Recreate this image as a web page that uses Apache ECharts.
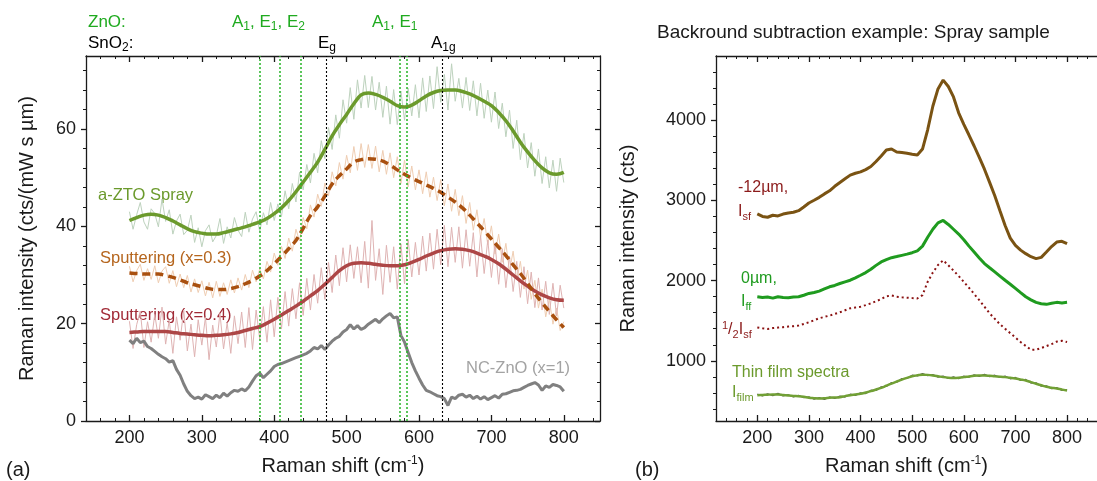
<!DOCTYPE html>
<html>
<head>
<meta charset="utf-8">
<script src="https://cdn.jsdelivr.net/npm/echarts@6/dist/echarts.min.js"></script>
<style>
html, body { margin: 0; padding: 0; background: #fff; }
#main { width: 1097px; height: 481px; }
</style>
</head>
<body>
<div id="main"></div>
<script>
// ---- data (a): Raman spectra, raw points every 5 cm-1, fitted curves every 10 cm-1
var sprayRaw = [
  43.0, 39.4, 42.4, 44.9, 40.9, 39.4, 43.6, 42.6, 39.9, 45.6,
  41.0, 43.4, 38.4, 41.1, 42.5, 38.3, 39.2, 42.3, 36.7, 39.7,
  35.8, 39.1, 40.3, 36.8, 38.1, 41.6, 36.5, 39.9, 37.6, 41.8,
  39.2, 37.9, 42.9, 38.8, 41.5, 43.0, 38.9, 42.8, 40.3, 44.9,
  41.2, 44.6, 42.0, 47.3, 43.6, 48.8, 45.0, 51.1, 47.5, 52.7,
  48.9, 55.0, 51.0, 57.6, 53.9, 60.3, 55.8, 62.9, 58.1, 66.0,
  61.2, 68.5, 62.0, 70.1, 64.3, 71.0, 64.4, 70.8, 63.9, 69.6,
  62.4, 68.8, 61.0, 68.1, 60.9, 67.8, 61.8, 68.4, 62.7, 69.1,
  62.3, 70.5, 63.6, 70.9, 64.2, 72.8, 65.5, 71.2, 63.9, 73.4,
  65.7, 70.4, 64.3, 70.6, 63.8, 69.9, 62.7, 69.4, 62.2, 68.0,
  61.4, 67.6, 60.1, 65.3, 58.4, 63.9, 56.0, 61.8, 53.7, 59.1,
  52.0, 57.2, 50.3, 55.9, 48.8, 54.3, 47.9, 53.6, 47.2, 54.0,
  49.0
];
var sput03Raw = [
  31.8, 28.6, 30.9, 32.2, 28.9, 31.3, 29.1, 31.9, 28.4, 30.8,
  31.7, 28.3, 30.9, 27.6, 30.2, 27.4, 29.9, 26.5, 29.2, 26.4,
  28.8, 25.7, 28.5, 25.3, 28.7, 25.6, 28.4, 26.0, 29.0, 26.3,
  29.4, 26.9, 30.1, 27.4, 31.0, 28.6, 31.3, 29.2, 32.8, 30.6,
  34.5, 32.0, 35.9, 33.4, 37.6, 34.9, 39.4, 37.0, 41.8, 39.5,
  44.4, 41.9, 46.6, 44.1, 48.9, 46.3, 51.2, 48.3, 53.1, 49.7,
  54.6, 51.0, 56.4, 51.5, 57.0, 52.1, 56.8, 51.9, 56.5, 51.2,
  55.6, 50.7, 55.1, 50.0, 54.3, 48.8, 53.6, 48.1, 52.4, 47.5,
  51.6, 46.7, 51.2, 46.0, 50.1, 45.3, 49.6, 44.2, 48.7, 43.1,
  47.6, 42.2, 46.3, 40.6, 44.9, 39.2, 43.4, 37.8, 41.6, 36.2,
  40.1, 34.3, 38.4, 32.6, 36.5, 30.8, 34.9, 29.0, 32.8, 27.1,
  31.0, 25.0, 28.9, 23.2, 27.1, 21.4, 25.0, 19.9, 23.2, 18.6,
  20.4
];
var sput04Raw = [
  20.5, 14.9, 19.8, 22.6, 15.1, 20.4, 16.2, 21.9, 17.0, 23.4,
  15.8, 20.7, 13.9, 21.4, 16.6, 22.8, 14.4, 19.9, 13.2, 20.8,
  15.6, 21.3, 12.6, 19.7, 15.2, 22.1, 14.8, 20.2, 13.9, 21.6,
  15.9, 22.4, 15.1, 23.3, 14.7, 22.8, 16.8, 23.5, 16.2, 24.9,
  17.3, 25.4, 18.9, 26.6, 19.5, 27.2, 21.0, 28.4, 21.7, 29.3,
  22.8, 30.1, 24.2, 31.5, 25.0, 32.6, 26.4, 34.1, 27.8, 35.6,
  28.6, 36.2, 29.3, 35.8, 28.4, 36.9, 27.3, 41.2, 28.9, 35.4,
  26.0, 36.1, 28.5, 35.8, 27.1, 36.4, 28.2, 37.3, 29.6, 36.7,
  30.0, 38.0, 30.8, 38.6, 31.2, 39.4, 32.1, 40.2, 31.7, 39.8,
  32.6, 39.9, 31.4, 39.3, 31.8, 38.7, 29.6, 38.1, 30.3, 37.2,
  29.5, 36.6, 28.1, 35.4, 27.4, 33.9, 26.6, 32.8, 25.4, 31.7,
  24.1, 30.6, 23.3, 29.4, 22.8, 28.7, 21.9, 28.3, 21.6, 27.9,
  23.2
];
var ncZnO = [
  16.6, 15.9, 17.0, 16.1, 16.4, 15.3, 14.9, 14.3, 13.7, 13.2,
  12.8, 12.1, 12.4, 10.6, 9.4, 7.6, 6.1, 5.2, 4.6, 4.9,
  4.5, 5.4, 5.0, 4.6, 5.3, 4.8, 5.7, 5.1, 5.8, 6.3,
  6.1, 6.6, 6.2, 7.0, 8.2, 9.3, 9.8, 8.9, 9.6, 10.3,
  11.2, 11.6, 11.8, 12.1, 12.4, 12.7, 13.0, 13.3, 13.6, 13.9,
  14.4, 15.1, 14.8, 15.5, 14.7, 15.6, 16.4, 17.0, 17.4, 18.3,
  18.8, 19.8, 18.9, 19.6, 18.8, 19.2, 19.9, 20.4, 20.9, 20.2,
  21.0, 21.6, 22.1, 21.2, 21.4, 17.6, 16.2, 14.1, 12.0, 10.3,
  8.8, 7.4, 6.3, 6.0, 5.6, 5.2, 5.0, 4.6, 3.2, 4.9,
  4.6, 5.3, 5.5, 4.9, 5.3, 4.6, 5.1, 4.5, 5.0, 4.4,
  4.8, 5.2, 4.7, 5.5, 5.6, 5.9, 6.2, 6.3, 6.5, 6.9,
  7.3, 7.6, 7.9, 7.4, 6.3, 7.2, 6.9, 7.5, 7.3, 7.0,
  6.1
];
var sprayFit = [
  41.2, 41.8, 42.3, 42.5, 42.3, 41.8, 41.1, 40.3, 39.5, 38.9,
  38.6, 38.4, 38.4, 38.7, 39.1, 39.5, 39.9, 40.4, 40.9, 41.6,
  42.6, 43.8, 45.3, 47.1, 49.1, 51.1, 53.2, 55.8, 58.6, 60.9,
  63.0, 65.2, 67.0, 67.4, 67.1, 66.5, 65.7, 64.8, 64.5, 64.9,
  65.8, 66.8, 67.5, 67.9, 68.0, 68.0, 67.7, 67.2, 66.5, 65.7,
  64.8, 63.4, 61.7, 59.6, 57.3, 55.3, 53.5, 52.0, 51.0, 50.7,
  51.1
];
var sput03Fit = [
  30.4, 30.3, 30.2, 30.2, 30.2, 29.9, 29.5, 29.0, 28.4, 28.0,
  27.6, 27.2, 27.0, 27.0, 27.2, 27.6, 28.2, 28.9, 29.8, 30.9,
  32.3, 33.8, 35.4, 37.1, 39.6, 42.2, 44.0, 46.2, 48.7, 50.4,
  51.8, 53.2, 53.7, 53.9, 53.8, 53.4, 52.6, 51.6, 50.7, 49.9,
  49.2, 48.5, 47.8, 47.0, 46.0, 45.0, 43.8, 42.3, 40.7, 39.1,
  37.4, 35.7, 34.0, 32.1, 30.3, 28.3, 26.2, 24.3, 22.5, 20.8,
  19.2
];
var sput04Fit = [
  18.2, 18.3, 18.4, 18.4, 18.4, 18.4, 18.2, 18.0, 17.9, 17.7,
  17.6, 17.5, 17.6, 17.7, 17.9, 18.2, 18.6, 19.0, 19.4, 20.1,
  20.9, 21.8, 22.7, 23.6, 24.6, 25.7, 26.8, 28.1, 29.5, 30.9,
  31.9, 32.4, 32.5, 32.4, 32.2, 32.0, 31.9, 31.9, 32.1, 32.6,
  33.2, 33.9, 34.5, 35.0, 35.3, 35.4, 35.3, 35.0, 34.5, 33.9,
  33.2, 32.3, 31.2, 30.0, 28.8, 27.7, 26.7, 25.9, 25.3, 24.9,
  24.8
];
// mode positions (cm-1)
var znoModes = [380, 407, 437, 574, 583];
var sno2Modes = [472, 632];

// ---- data (b): background subtraction, every 10 cm-1
var iSf = [
  2831, 2800, 2790, 2815, 2806, 2830, 2844, 2852, 2872, 2918,
  2968, 3002, 3038, 3081, 3120, 3176, 3224, 3270, 3315, 3338,
  3356, 3384, 3422, 3485, 3554, 3628, 3640, 3604, 3597, 3587,
  3575, 3565, 3640, 3880, 4174, 4390, 4500, 4420, 4290, 4092,
  3947, 3815, 3678, 3535, 3389, 3225, 3058, 2870, 2687, 2530,
  2439, 2380, 2336, 2298, 2274, 2290, 2357, 2425, 2481, 2490,
  2460
];
var iFf = [
  1799, 1790, 1795, 1782, 1799, 1790, 1787, 1795, 1799, 1818,
  1840, 1852, 1869, 1896, 1923, 1940, 1964, 1985, 2005, 2035,
  2067, 2100, 2141, 2190, 2233, 2262, 2286, 2300, 2315, 2330,
  2348, 2370, 2430, 2540, 2640, 2720, 2750, 2700, 2640, 2580,
  2510, 2430, 2357, 2283, 2212, 2160, 2109, 2057, 2005, 1955,
  1903, 1850, 1799, 1760, 1729, 1712, 1704, 1718, 1729, 1722,
  1729
];
var halfSf = [
  1415, 1405, 1398, 1408, 1415, 1420, 1427, 1432, 1440, 1460,
  1481, 1505, 1531, 1548, 1564, 1585, 1605, 1630, 1655, 1665,
  1675, 1695, 1716, 1742, 1770, 1805, 1815, 1799, 1792, 1787,
  1782, 1778, 1819, 1985, 2100, 2195, 2253, 2191, 2125, 2059,
  1985, 1911, 1834, 1757, 1675, 1592, 1524, 1456, 1400, 1345,
  1290, 1234, 1186, 1138, 1140, 1159, 1184, 1209, 1240, 1250,
  1234
];
var filmRaw = [
  585, 562, 590, 566, 594, 562, 578, 549, 571, 540,
  552, 522, 541, 520, 550, 531, 560, 548, 584, 569,
  601, 592, 634, 630, 676, 681, 729, 733, 779, 780,
  821, 812, 841, 816, 830, 797, 811, 780, 800, 776,
  810, 795, 827, 806, 831, 803, 821, 792, 810, 776,
  793, 756, 768, 722, 727, 683, 689, 652, 668, 630,
  642
];
var filmFit = [
  572, 575, 578, 580, 580, 574, 568, 563, 560, 552,
  539, 534, 530, 533, 539, 543, 547, 560, 572, 580,
  589, 605, 622, 642, 663, 690, 717, 742, 766, 788,
  808, 820, 828, 825, 818, 808, 797, 790, 787, 790,
  797, 806, 814, 817, 818, 814, 808, 803, 797, 789,
  780, 768, 755, 735, 714, 695, 676, 665, 655, 642,
  630
];

var FONT = '"Liberation Sans", Arial, Helvetica, sans-serif';
var INK = '#1a1a1a';

function range(a, b, s) {
    var r = [];
    for (var v = a; v <= b + 1e-9; v += s) r.push(v);
    return r;
}
var shift5 = range(200, 800, 5);
var shift10 = range(200, 800, 10);
function pairs(xs, ys) {
    return ys.map(function (y, i) { return [xs[i], y]; });
}
// plain numbers, no thousands separator
function plain(v) { return String(v); }

var nameStyle = {
    fontSize: 20, color: INK, fontFamily: FONT,
    rich: { s: { fontSize: 12, color: INK, fontFamily: FONT, padding: [0, 0, 10, 0] } }
};

// four x axes per panel: bottom (labels + big ticks), bottom minor, top, top minor
function xAxes(gi, min, max, major, minor) {
    var base = { type: 'value', gridIndex: gi, min: min, max: max, splitLine: { show: false } };
    var on = { show: true, onZero: false, lineStyle: { color: INK, width: 1.3 } };
    var off = { show: false, onZero: false };
    var big = { inside: true, length: 6, customValues: major, lineStyle: { color: INK, width: 1.3 } };
    var small = { inside: true, length: 3, customValues: minor, lineStyle: { color: INK, width: 1 } };
    return [
        Object.assign({}, base, {
            position: 'bottom', axisLine: on, axisTick: big,
            axisLabel: { customValues: major, margin: 8, fontSize: 18, color: INK, fontFamily: FONT, formatter: plain },
            name: 'Raman shift (cm{s|-1})', nameLocation: 'middle', nameGap: 34, nameTextStyle: nameStyle
        }),
        Object.assign({}, base, { position: 'bottom', axisLine: off, axisTick: small, axisLabel: { show: false } }),
        Object.assign({}, base, { position: 'top', axisLine: on, axisTick: big, axisLabel: { show: false } }),
        Object.assign({}, base, { position: 'top', axisLine: off, axisTick: small, axisLabel: { show: false } })
    ];
}

function yAxes(gi, min, max, major, minor, name, gap, withRight) {
    var base = { type: 'value', gridIndex: gi, min: min, max: max, splitLine: { show: false } };
    var on = { show: true, onZero: false, lineStyle: { color: INK, width: 1.3 } };
    var off = { show: false, onZero: false };
    var list = [
        Object.assign({}, base, {
            position: 'left', axisLine: on,
            axisTick: { inside: false, length: 5, customValues: major, lineStyle: { color: INK, width: 1.3 } },
            axisLabel: { customValues: major, margin: 10, fontSize: 18, color: INK, fontFamily: FONT, formatter: plain },
            name: name, nameLocation: 'middle', nameGap: gap,
            nameTextStyle: { fontSize: 20, color: INK, fontFamily: FONT }
        }),
        Object.assign({}, base, {
            position: 'left', axisLine: off,
            axisTick: { inside: false, length: 3, customValues: minor, lineStyle: { color: INK } },
            axisLabel: { show: false }
        })
    ];
    if (withRight) {
        list.push(Object.assign({}, base, {
            position: 'right', axisLine: on,
            axisTick: { inside: true, length: 5, customValues: major, lineStyle: { color: INK, width: 1.3 } },
            axisLabel: { show: false }
        }));
        list.push(Object.assign({}, base, {
            position: 'right', axisLine: off,
            axisTick: { inside: true, length: 3, customValues: minor, lineStyle: { color: INK } },
            axisLabel: { show: false }
        }));
    }
    return list;
}

function line(xi, yi, data, color, width, extra) {
    return Object.assign({
        type: 'line', xAxisIndex: xi, yAxisIndex: yi, data: data,
        symbol: 'none', silent: true, animation: false,
        lineStyle: { color: color, width: width }
    }, extra || {});
}

// vertical dotted marker lines at mode positions
function modeLines(modes, color, width) {
    return line(0, 0, [], color, 1, {
        markLine: {
            silent: true, symbol: ['none', 'none'], animation: false,
            label: { show: false },
            lineStyle: { color: color, type: [2, 2], width: width },
            emphasis: { disabled: true },
            data: modes.map(function (v) { return { xAxis: v }; })
        }
    });
}

// rich text helper: n normal, b subscript, p superscript
function rt(color, size) {
    var small = Math.round(size * 0.68);
    return {
        n: { fill: color, fontSize: size, fontFamily: FONT },
        b: { fill: color, fontSize: small, fontFamily: FONT, padding: [Math.round(size * 0.55), 0, 0, 0] },
        p: { fill: color, fontSize: small, fontFamily: FONT, padding: [0, 0, Math.round(size * 0.55), 0] }
    };
}
function txt(x, y, text, color, size) {
    return {
        type: 'text', x: x, y: y, silent: true,
        style: {
            text: text, rich: rt(color, size), fill: color, fontSize: size, fontFamily: FONT,
            align: 'left', verticalAlign: 'middle'
        }
    };
}

var GREEN_MODE = '#1faa1f';

var chart = echarts.init(document.getElementById('main'), null, { renderer: 'canvas' });

var option = {
    animation: false,
    backgroundColor: '#fff',
    grid: [
        { left: 86, top: 56, width: 514, height: 367 },
        { left: 716, top: 56, width: 393, height: 367 }
    ],
    xAxis: xAxes(0, 140, 850, range(200, 800, 100), range(160, 840, 20))
        .concat(xAxes(1, 120, 858, range(200, 800, 100), range(120, 840, 20))),
    yAxis: yAxes(0, 0, 75, [0, 20, 40, 60], range(4, 72, 4), 'Raman intensity (cts/(mW s \u00b5m)', 49, true)
        .concat(yAxes(1, 250, 4800, [1000, 2000, 3000, 4000], range(400, 4600, 200), 'Raman intensity (cts)', 78, false)),
    series: [
        // (a)
        line(0, 0, pairs(shift5, sprayRaw), '#bdd2bd', 1),
        line(0, 0, pairs(shift5, sput03Raw), '#efcdb2', 1),
        line(0, 0, pairs(shift5, sput04Raw), '#dfb3b3', 1),
        modeLines(znoModes, '#26b426', 1.5),
        modeLines(sno2Modes, '#000000', 1.1),
        line(0, 0, pairs(shift5, ncZnO), '#808080', 3),
        line(0, 0, pairs(shift10, sput04Fit), '#ad4646', 3.5, { smooth: 0.4 }),
        line(0, 0, pairs(shift10, sput03Fit), '#a9500f', 3.5, {
            smooth: 0.4, lineStyle: { color: '#a9500f', width: 3.5, type: [8, 5] }
        }),
        line(0, 0, pairs(shift10, sprayFit), '#6b9a2c', 3.5, { smooth: 0.4 }),
        // (b)
        line(4, 4, pairs(shift10, iSf), '#7a5313', 3),
        line(4, 4, pairs(shift10, iFf), '#1f9b1f', 3),
        line(4, 4, pairs(shift10, halfSf), '#8b1212', 2, {
            lineStyle: { color: '#8b1212', width: 2, type: [2, 3] }
        }),
        line(4, 4, pairs(shift10, filmRaw), '#555555', 1.2),
        line(4, 4, pairs(shift10, filmFit), '#71a035', 2.5, { smooth: 0.4 })
    ],
    graphic: [
        txt(88, 22, '{n|ZnO:}', GREEN_MODE, 17),
        txt(232, 22, '{n|A}{b|1}{n|, E}{b|1}{n|, E}{b|2}', GREEN_MODE, 17),
        txt(372, 22, '{n|A}{b|1}{n|, E}{b|1}', GREEN_MODE, 17),
        txt(88, 43, '{n|SnO}{b|2}{n|:}', '#000', 17),
        txt(318, 43, '{n|E}{b|g}', '#000', 17),
        txt(431, 43, '{n|A}{b|1g}', '#000', 17),
        txt(98, 195, '{n|a-ZTO Spray}', '#6b9a2c', 16.5),
        txt(100, 258, '{n|Sputtering (x=0.3)}', '#b5651d', 16.5),
        txt(100, 315, '{n|Sputtering (x=0.4)}', '#a12a36', 16.5),
        txt(466, 368, '{n|NC-ZnO (x=1)}', '#a3a3a3', 16.5),
        txt(6, 470, '{n|(a)}', INK, 20),
        txt(657, 33, '{n|Backround subtraction example: Spray sample}', INK, 19),
        txt(738, 188, '{n|-12\u00b5m,}', '#8b1a1a', 16),
        txt(738, 212, '{n|I}{b|sf}', '#8b1a1a', 16),
        txt(741, 279, '{n|0\u00b5m,}', '#1f9b1f', 16),
        txt(741, 302, '{n|I}{b|ff}', '#1f9b1f', 16),
        txt(722, 330, '{p|1}{n|/}{b|2}{n|I}{b|sf}', '#8b1a1a', 16),
        txt(732, 373, '{n|Thin film spectra}', '#6b9a2c', 16),
        txt(732, 393, '{n|I}{b|film}', '#6b9a2c', 16),
        txt(635, 470, '{n|(b)}', INK, 20)
    ]
};

chart.setOption(option);

window.onresize = function () {
    chart.resize();
};
</script>
</body>
</html>
